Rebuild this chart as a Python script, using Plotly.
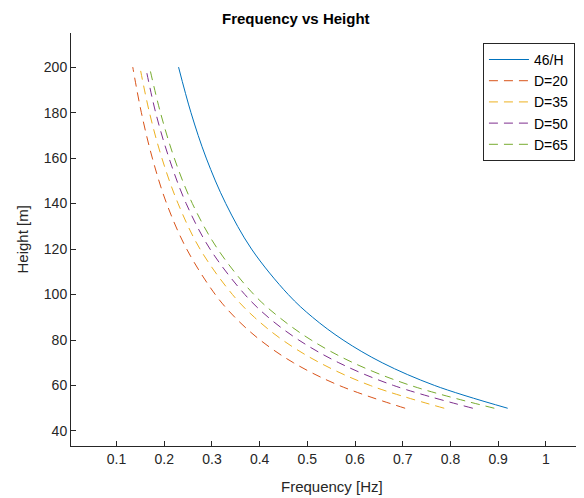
import plotly.graph_objects as go

heights = [50, 60, 70, 80, 90, 100, 120, 140, 160, 180, 200]
f_46H = [0.920, 0.767, 0.657, 0.575, 0.511, 0.460, 0.383, 0.329, 0.288, 0.256, 0.230]
f_D20 = [0.705, 0.567, 0.471, 0.401, 0.348, 0.307, 0.247, 0.205, 0.175, 0.152, 0.134]
f_D35 = [0.787, 0.632, 0.526, 0.448, 0.389, 0.343, 0.275, 0.229, 0.195, 0.169, 0.149]
f_D50 = [0.847, 0.681, 0.566, 0.482, 0.418, 0.369, 0.296, 0.246, 0.210, 0.182, 0.161]
f_D65 = [0.892, 0.717, 0.596, 0.508, 0.441, 0.388, 0.312, 0.259, 0.221, 0.192, 0.169]

names = ["46/H", "D=20", "D=35", "D=50", "D=65"]
series = [f_46H, f_D20, f_D35, f_D50, f_D65]
colors = ["#0072BD", "#D95319", "#EDB120", "#7E2F8E", "#77AC30"]
dashes = ["solid", "9px,6px", "9px,6px", "9px,6px", "9px,6px"]

x_ticks = [0.1, 0.2, 0.3, 0.4, 0.5, 0.6, 0.7, 0.8, 0.9, 1.0]
x_tick_labels = ["0.1", "0.2", "0.3", "0.4", "0.5", "0.6", "0.7", "0.8", "0.9", "1"]
y_ticks = [40, 60, 80, 100, 120, 140, 160, 180, 200]

FONT = "Liberation Sans, Arial, sans-serif"
AX = "#262626"

fig = go.Figure()
for n, s, c, d in zip(names, series, colors, dashes):
    fig.add_trace(go.Scatter(x=s, y=heights, mode="lines", name=n,
                             line=dict(color=c, width=1, dash=d, shape="spline")))

fig.update_layout(
    width=576, height=490,
    margin=dict(l=63, r=0, t=25, b=52),
    paper_bgcolor="white", plot_bgcolor="white",
    font=dict(family=FONT, size=14, color=AX),
    showlegend=True,
    legend=dict(x=0.803, y=0.976, xanchor="left", yanchor="top",
                bgcolor="white", bordercolor=AX, borderwidth=1,
                font=dict(size=14, color="black"), tracegroupgap=0,
                itemwidth=40),
    annotations=[
        dict(text="<b>Frequency vs Height</b>", xref="paper", yref="paper",
             x=(288 - 63) / 513, y=1, yshift=4, xanchor="center", yanchor="bottom",
             showarrow=False, font=dict(size=15, color="black", family=FONT)),
        dict(text="Frequency [Hz]", xref="paper", yref="paper",
             x=(324 - 63) / 513, y=0, yshift=-30, xanchor="center", yanchor="top",
             showarrow=False, font=dict(size=15, color=AX, family=FONT)),
        dict(text="Height [m]", xref="paper", yref="paper",
             x=0, xshift=-49, y=0.5, xanchor="center", yanchor="middle", textangle=-90,
             showarrow=False, font=dict(size=15, color=AX, family=FONT)),
    ],
)
fig.update_xaxes(range=[0.0045, 1.080], tickvals=x_ticks, ticktext=x_tick_labels,
                 ticks="inside", ticklen=5, tickcolor=AX, showline=True, linecolor=AX,
                 linewidth=1, showgrid=False, zeroline=False, mirror=False,
                 tickfont=dict(size=14, color=AX))
fig.update_yaxes(range=[33.4, 215], tickvals=y_ticks,
                 ticks="inside", ticklen=5, tickcolor=AX, showline=True, linecolor=AX,
                 linewidth=1, showgrid=False, zeroline=False, mirror=False,
                 tickfont=dict(size=14, color=AX))

fig.write_html("out.html")
